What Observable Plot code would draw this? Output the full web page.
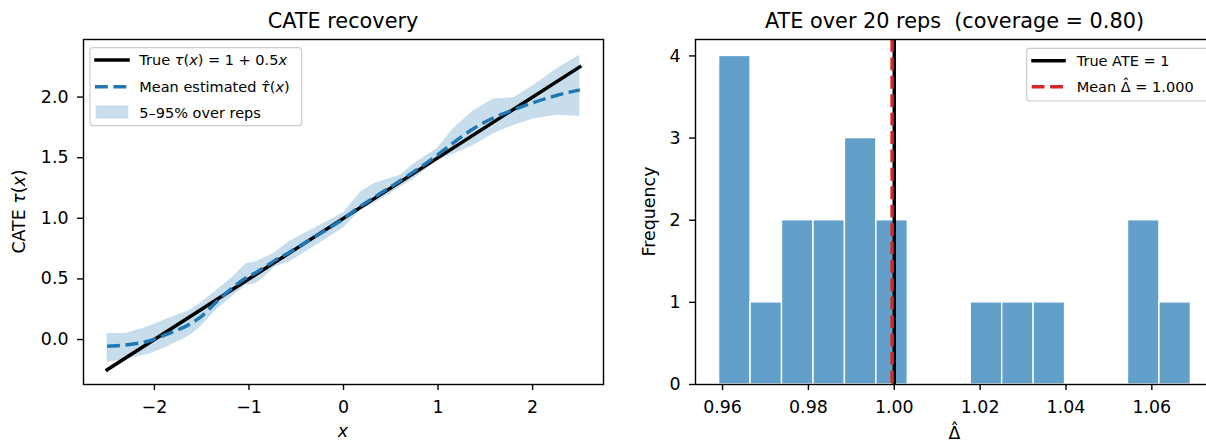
<!DOCTYPE html>
<html><head><meta charset="utf-8">
<script src="https://cdn.jsdelivr.net/npm/d3@7"></script>
<script src="https://cdn.jsdelivr.net/npm/@observablehq/plot@0.6"></script>
<style>
body{margin:0;background:#fff;overflow:hidden}
#fig{position:relative;width:1206px;height:442px;overflow:hidden;background:#fff}
#fig > svg{position:absolute;top:0}
</style></head><body><div id="fig"></div>
<script>
// ---- Left panel data: CATE recovery ----
const cateX    = [-2.5,-2.3,-2.05,-1.88,-1.63,-1.52,-1.35,-1.17,-1.03,-0.93,-0.86,-0.72,-0.57,-0.29,0,0.18,0.32,0.6,0.745,0.99,1.165,1.377,1.59,1.8,2.01,2.26,2.5];
const bandLow  = [-0.19,-0.165,-0.12,-0.065,0.03,0.10,0.24,0.36,0.445,0.46,0.50,0.60,0.64,0.775,0.92,1.065,1.12,1.255,1.325,1.475,1.53,1.60,1.70,1.765,1.82,1.85,1.84];
const bandHigh = [0.05,0.05,0.11,0.165,0.24,0.295,0.40,0.515,0.625,0.64,0.665,0.72,0.81,0.925,1.045,1.215,1.285,1.355,1.45,1.575,1.74,1.89,1.985,1.995,2.095,2.235,2.345];
const meanEst  = [-0.055,-0.045,-0.01,0.04,0.125,0.18,0.305,0.43,0.51,0.55,0.585,0.655,0.72,0.855,0.995,1.10,1.17,1.31,1.385,1.52,1.625,1.74,1.83,1.895,1.955,2.015,2.06];
const trueX    = [-2.5, 2.5];
const trueTau  = [-0.25, 2.25];
const leftXTicks = [-2,-1,0,1,2];
const leftYTicks = [0,0.5,1,1.5,2];

// ---- Right panel data: ATE histogram ----
const histCounts = [4,1,2,2,3,2,0,0,1,1,1,0,0,2,1];
const histMin = 0.9592, histMax = 1.0691;
const trueATE = 1.0, meanATE = 0.9995;
const rightXTicks = [0.96,0.98,1.00,1.02,1.04,1.06];
const rightYTicks = [0,1,2,3,4];

const cateTable = cateX.map((x,i)=>({x, lo:bandLow[i], hi:bandHigh[i], mean:meanEst[i]}));
const trueTable = trueX.map((x,i)=>({x, y:trueTau[i]}));
const bw = (histMax-histMin)/histCounts.length;
const histTable = histCounts.map((c,i)=>({x1:histMin+i*bw, x2:histMin+(i+1)*bw, y:c}));

const LW = 3.47, DASH = "12.85,5.56", FS = 17.4;
const baseStyle = {fontFamily:"DejaVu Sans", fontSize:FS+"px", color:"#000", background:"transparent", overflow:"visible"};

const left = Plot.plot({
  width:640, height:442, marginLeft:83, marginRight:37, marginTop:39, marginBottom:58,
  x:{domain:[-2.75,2.75]}, y:{domain:[-0.371,2.475]},
  style: baseStyle,
  marks:[
    Plot.areaY(cateTable,{x:"x", y1:"lo", y2:"hi", fill:"#1f77b4", fillOpacity:0.25}),
    Plot.line(trueTable,{x:"x", y:"y", stroke:"#000", strokeWidth:LW, strokeLinecap:"square"}),
    Plot.line(cateTable,{x:"x", y:"mean", stroke:"#1f77b4", strokeWidth:LW, strokeDasharray:DASH, strokeLinecap:"butt", curve:"monotone-x"}),
    Plot.frame({stroke:"#000", strokeWidth:1.4}),
    Plot.axisX({ticks:leftXTicks, tickFormat:d3.format("d"), tickSize:6, tickPadding:10, strokeWidth:1.4, label:null}),
    Plot.axisY({ticks:leftYTicks, tickFormat:d3.format(".1f"), tickSize:6, tickPadding:9, strokeWidth:1.4, label:null})
  ]
});
left.style.left = "0px";
document.getElementById("fig").appendChild(left);

const right = Plot.plot({
  width:600, height:442, marginLeft:75, marginRight:6, marginTop:39, marginBottom:58,
  x:{domain:[0.9537,1.0746]}, y:{domain:[0,4.2]},
  style: baseStyle,
  marks:[
    Plot.rectY(histTable,{x1:"x1", x2:"x2", y:"y", fill:"#1f77b4", fillOpacity:0.7, stroke:"#fff", strokeWidth:1.4, inset:0}),
    Plot.ruleX([trueATE],{stroke:"#000", strokeWidth:LW}),
    Plot.ruleX([meanATE],{stroke:"#d62728", strokeWidth:LW, strokeDasharray:DASH, strokeLinecap:"butt"}),
    Plot.frame({stroke:"#000", strokeWidth:1.4}),
    Plot.axisX({ticks:rightXTicks, tickFormat:d3.format(".2f"), tickSize:6, tickPadding:10, strokeWidth:1.4, label:null}),
    Plot.axisY({ticks:rightYTicks, tickFormat:d3.format("d"), tickSize:6, tickPadding:9, strokeWidth:1.4, label:null})
  ]
});
right.style.left = "620px";
document.getElementById("fig").appendChild(right);

// ---- Text overlay: titles, axis labels, legends ----
const ov = d3.select("#fig").append("svg")
  .attr("width",1206).attr("height",442)
  .style("left","0px").style("font-family","DejaVu Sans").style("pointer-events","none");

function label(x, y, parts, size, anchor="middle", rotate=false){
  const t = ov.append("text").attr("x",x).attr("y",y).attr("font-size",size)
    .attr("text-anchor",anchor).style("white-space","pre").attr("fill","#000");
  if (rotate) t.attr("transform",`rotate(-90 ${x} ${y})`);
  const spans = parts.map(([s,it])=> t.append("tspan").text(s).attr("font-style", it?"italic":"normal"));
  return {t, spans};
}
// hat accent placed over a given tspan
function hatOver(span, baselineY, size){
  const node = span.node();
  const n = node.getNumberOfChars();
  const s = node.getStartPositionOfChar(0).x;
  const e = node.getEndPositionOfChar(n-1).x;
  ov.append("text").attr("x",(s+e)/2).attr("y",baselineY - 0.2*size).attr("font-size",size)
    .attr("text-anchor","middle").attr("fill","#000").text("\u02c6");
}

label(343, 27.5, [["CATE recovery",0]], 20.8);
label(954.5, 27.5, [["ATE over 20 reps  (coverage = 0.80)",0]], 20.8);
label(343, 437, [["x",1]], FS);
{ const L = label(954.5, 439, [["\u0394",0]], FS); hatOver(L.spans[0], 439, FS); }
label(25, 211.5, [["CATE ",0],["\u03c4",1],["(",0],["x",1],[")",0]], FS, "middle", true);
label(655, 211.5, [["Frequency",0]], FS, "middle", true);

const LFS = 14.5;
// left legend
ov.append("rect").attr("x",90).attr("y",47.7).attr("width",211.7).attr("height",78).attr("rx",3)
  .attr("fill","#fff").attr("fill-opacity",0.8).attr("stroke","#cccccc").attr("stroke-width",1.2);
ov.append("line").attr("x1",96).attr("x2",128).attr("y1",60).attr("y2",60).attr("stroke","#000").attr("stroke-width",LW).attr("stroke-linecap","square");
ov.append("line").attr("x1",95).attr("x2",129).attr("y1",86.7).attr("y2",86.7).attr("stroke","#1f77b4").attr("stroke-width",LW).attr("stroke-dasharray",DASH);
ov.append("rect").attr("x",95.7).attr("y",105.5).attr("width",32.6).attr("height",13).attr("fill","#1f77b4").attr("fill-opacity",0.25);
label(139.3, 65, [["True ",0],["\u03c4",1],["(",0],["x",1],[") = 1 + 0.5",0],["x",1]], LFS, "start");
{ const L = label(139.3, 92, [["Mean estimated ",0],["\u03c4",1],["(",0],["x",1],[")",0]], LFS, "start");
  const node = L.spans[1].node();
  const s = node.getStartPositionOfChar(0).x, e = node.getEndPositionOfChar(0).x;
  ov.append("text").attr("x",(s+e)/2+1).attr("y",92).attr("font-size",LFS).attr("text-anchor","middle").attr("fill","#000").text("\u02c6"); }
label(139.3, 117.5, [["5\u201395% over reps",0]], LFS, "start");
// right legend
ov.append("rect").attr("x",1026.7).attr("y",48.3).attr("width",200).attr("height",52.7).attr("rx",3)
  .attr("fill","#fff").attr("fill-opacity",0.8).attr("stroke","#cccccc").attr("stroke-width",1.2);
ov.append("line").attr("x1",1033).attr("x2",1064).attr("y1",60.7).attr("y2",60.7).attr("stroke","#000").attr("stroke-width",LW).attr("stroke-linecap","square");
ov.append("line").attr("x1",1031.7).attr("x2",1065.7).attr("y1",86.7).attr("y2",86.7).attr("stroke","#d62728").attr("stroke-width",LW).attr("stroke-dasharray",DASH);
label(1076.7, 66, [["True ATE = 1",0]], LFS, "start");
{ const L = label(1076.7, 92, [["Mean ",0],["\u0394",0],[" = 1.000",0]], LFS, "start"); hatOver(L.spans[1], 92, LFS); }
</script>
</body></html>
